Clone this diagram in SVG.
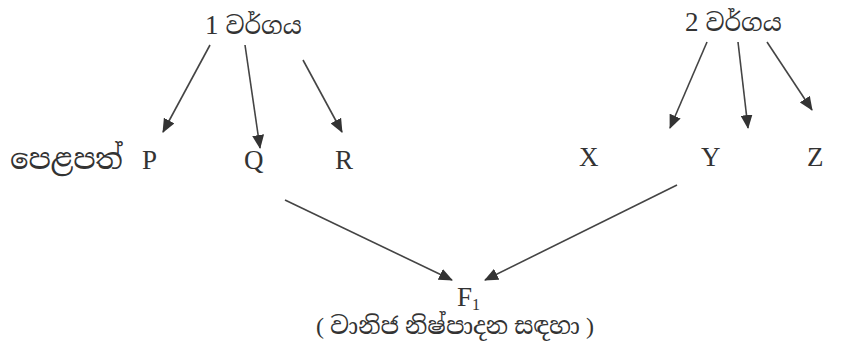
<svg xmlns="http://www.w3.org/2000/svg" width="865" height="349" viewBox="0 0 865 349">
<defs>
<marker id="ah" viewBox="0 0 14 12" refX="13" refY="6" markerWidth="14" markerHeight="12" markerUnits="userSpaceOnUse" orient="auto">
<path d="M0,0 L14,6 L0,12 Z" fill="#333"/>
</marker>
<style>
.t{font-family:"Liberation Serif","Noto Serif Sinhala","Noto Sans Sinhala","Noto Sans",serif;fill:#333;}
.lat{font-size:27px;}
.sin{font-size:24px;}
.big{font-size:29px;}
.c line{stroke:#444;stroke-width:1.6;marker-end:url(#ah);}
</style>
</defs>
<rect width="865" height="349" fill="#fff"/>
<g id="type1"><text class="t" x="205" y="34"><tspan class="lat">1</tspan><tspan class="sin" dx="7">වර්ගය</tspan></text></g>
<g id="type2"><text class="t" x="685" y="31"><tspan class="lat">2</tspan><tspan class="sin" dx="7">වර්ගය</tspan></text></g>
<g id="P"><text class="t big" x="10" y="169">පෙළපත්</text><text class="t lat" x="142" y="169">P</text></g>
<g id="Q"><text class="t lat" x="244" y="169">Q</text></g>
<g id="R"><text class="t lat" x="335" y="169">R</text></g>
<g id="X"><text class="t lat" x="579" y="166">X</text></g>
<g id="Y"><text class="t lat" x="701" y="166">Y</text></g>
<g id="Z"><text class="t lat" x="807" y="166">Z</text></g>
<g id="F1"><text class="t lat" x="457" y="306">F<tspan style="font-size:16px" dy="4">1</tspan></text>
<text class="t sin" x="455" y="334" text-anchor="middle">( වානිජ නිෂ්පාදන සඳහා )</text></g>
<g class="c" id="connectors">
<line x1="210" y1="45" x2="163" y2="132"/>
<line x1="245" y1="45" x2="260" y2="148"/>
<line x1="303" y1="60" x2="342" y2="132"/>
<line x1="707" y1="42" x2="670" y2="128"/>
<line x1="738" y1="42" x2="748" y2="128"/>
<line x1="767" y1="42" x2="812" y2="110"/>
<line x1="285" y1="200" x2="452" y2="280"/>
<line x1="677" y1="185" x2="485" y2="280"/>
</g>
</svg>
